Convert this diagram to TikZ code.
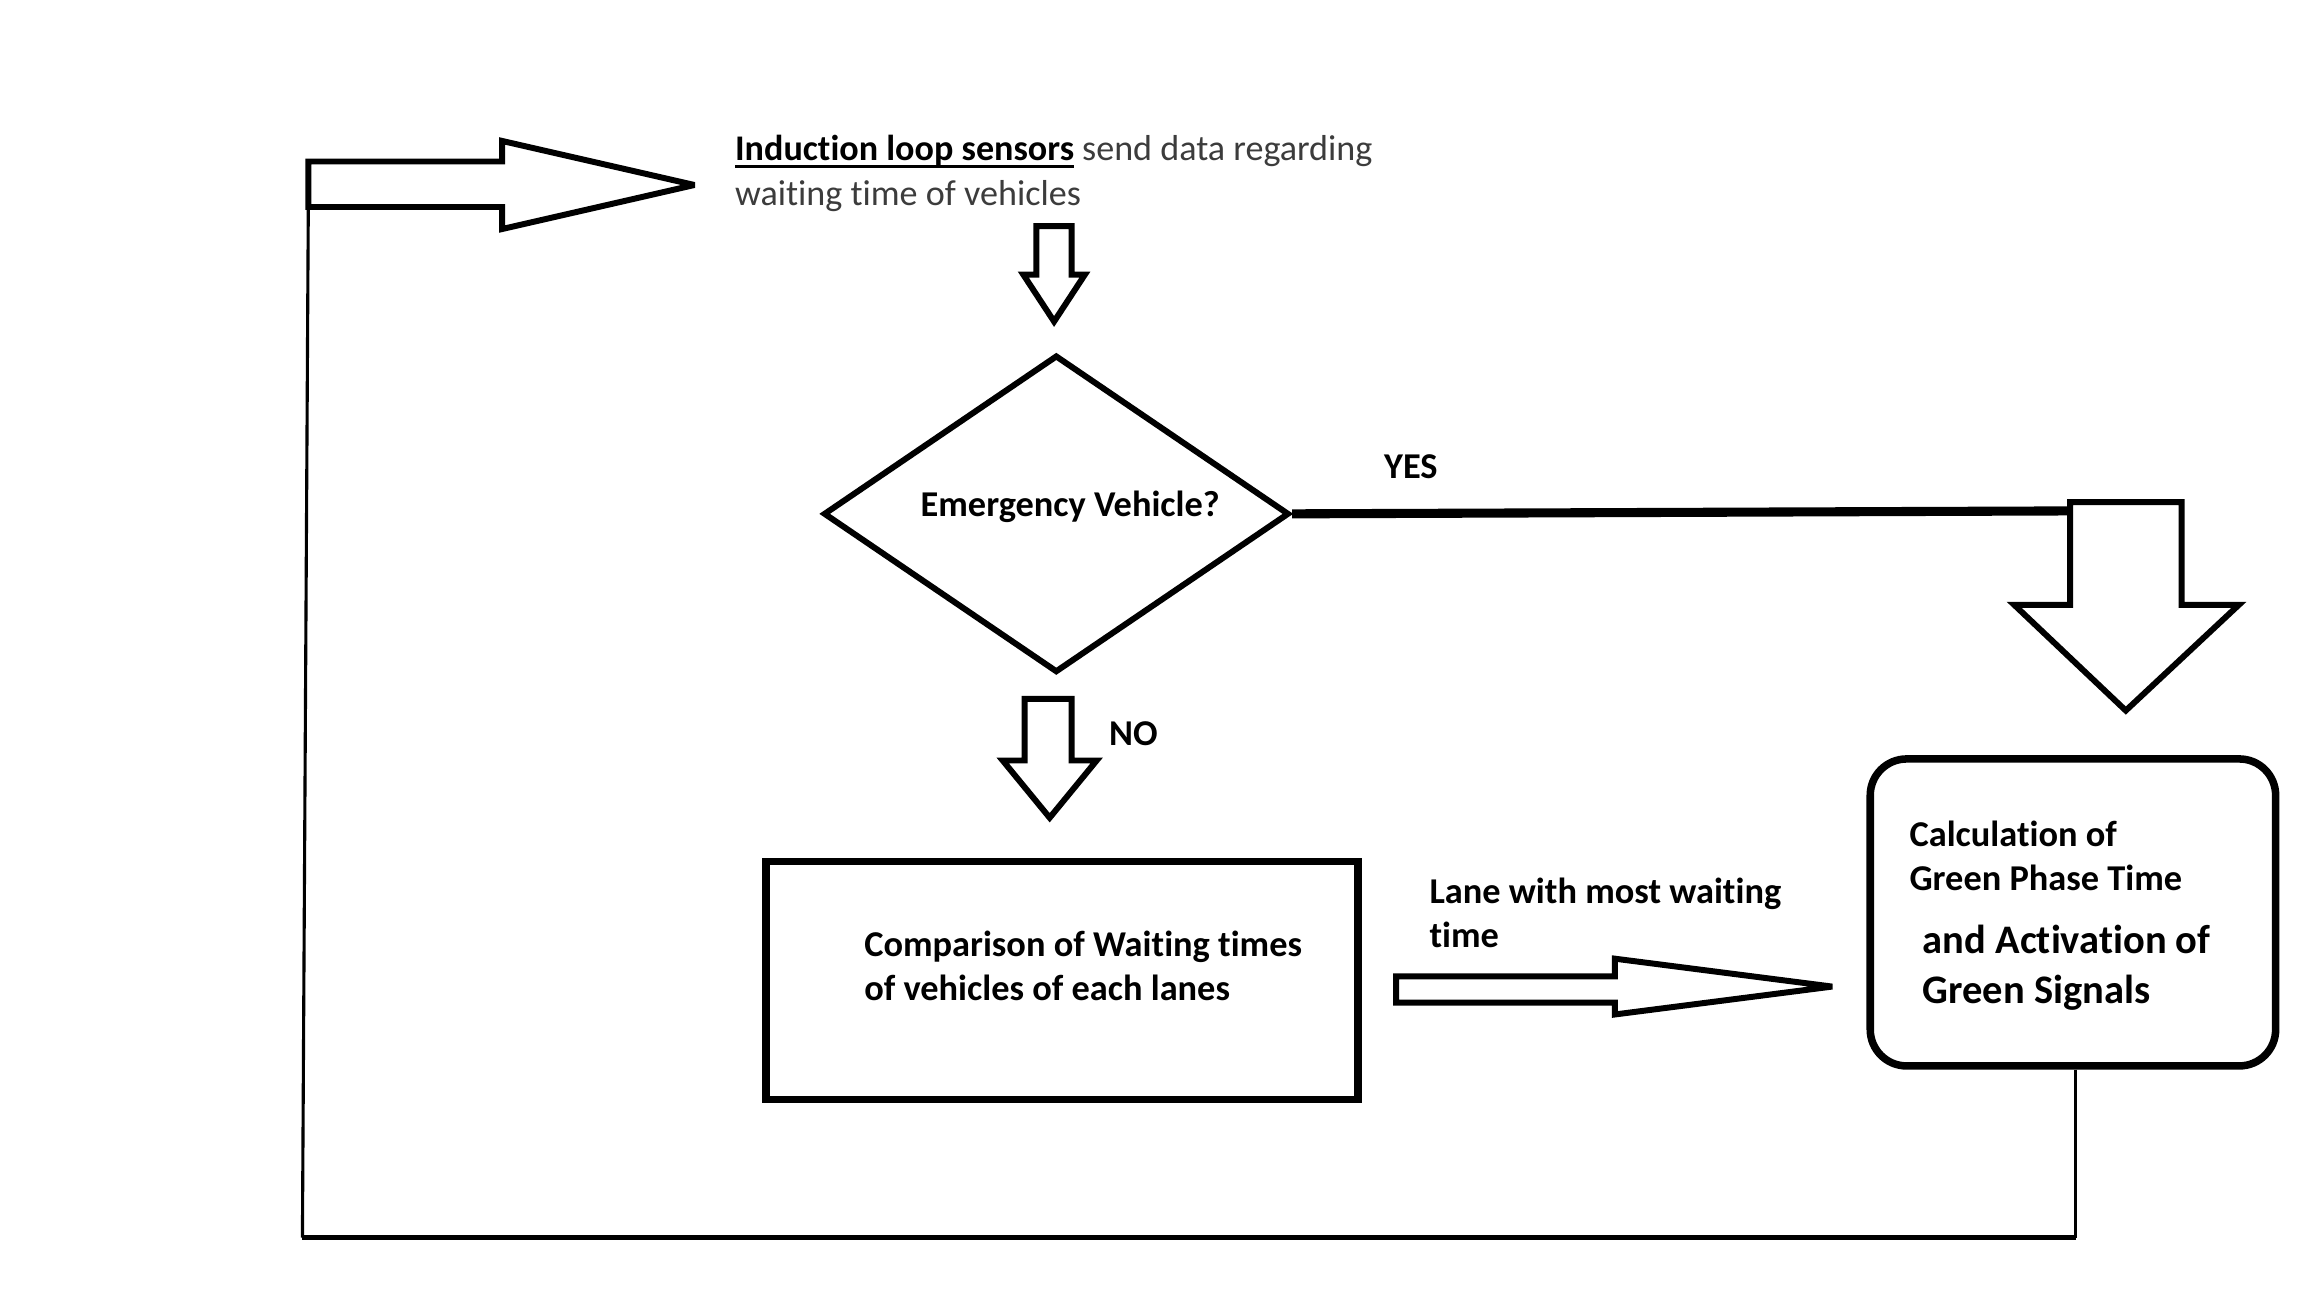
\documentclass[tikz,border=0pt]{standalone}
\usepackage{fontspec}
\setmainfont{Carlito}[Ligatures=NoCommon]
\usetikzlibrary{shapes.geometric}
\definecolor{txtgray}{HTML}{3C3C3C}
\newcommand\ulbold[1]{\setbox0=\hbox{#1}\rlap{\rule[-1.35pt]{\wd0}{0.55pt}}\box0}
\begin{document}
\begin{tikzpicture}[x=0.00994cm,y=-0.00994cm,
  blockarrow/.style={draw=black,line width=1.15pt,line join=miter,miter limit=3.2,fill=white},
  boxline/.style={draw=black,line width=1.45pt},
  thinline/.style={draw=black,line width=0.6pt},
  botline/.style={draw=black,line width=0.95pt},
  yesline/.style={draw=black,line width=1.75pt},
  lbl/.style={inner sep=0pt,align=left,text=black,font=\fontsize{7}{8.55}\selectfont\bfseries},
  biglbl/.style={inner sep=0pt,align=left,text=black,font=\fontsize{7.8}{9.7}\selectfont\bfseries},
  plain/.style={inner sep=0pt,align=left,text=txtgray,font=\fontsize{6.95}{8.55}\selectfont}]
\useasboundingbox (0,0) rectangle (1569.4,882.8);

% shapes
\node[diamond,draw=black,line width=1.15pt,inner sep=0pt,minimum width=3.151cm,minimum height=2.147cm] (emg) at (719.5,350) {};
\node[boxline,rectangle,inner sep=0pt,minimum width=4.006cm,minimum height=1.61cm] (cmp) at (723.5,668) {};
\node[boxline,rectangle,rounded corners=7pt,inner sep=0pt,minimum width=2.743cm,minimum height=2.077cm] (calc) at (1412,621.5) {};

% texts
\node[plain,anchor=west] (sensors) at (500,118) {\textcolor{black}{\ulbold{\bfseries Induction loop sensors}} send data regarding\\waiting time of vehicles};
\node[lbl] (emgtxt) at (729,345) {Emergency Vehicle?};
\node[lbl] (yes) at (961,318) {YES};
\node[lbl] (no) at (772,500) {NO};
\node[lbl,anchor=west] (cmptxt) at (588,658) {Comparison of Waiting times\\of vehicles of each lanes};
\node[lbl,anchor=west] (lane) at (973,622) {Lane with most waiting\\time};
\node[lbl,anchor=west] (calctxt) at (1300,583) {Calculation of\\Green Phase Time};
\node[biglbl,anchor=west] (acttxt) at (1309,659) {and Activation of\\Green Signals};

% block arrows
\draw[blockarrow] (210,110) -- (342,110) -- (342,96) -- (473,126) -- (342,156) -- (342,141) -- (210,141) -- cycle;
\draw[blockarrow] (706,154) -- (730,154) -- (730,187) -- (739,187) -- (718,219) -- (697,187) -- (706,187) -- cycle;
\draw[blockarrow] (698,476) -- (730,476) -- (730,518) -- (747,518) -- (715,557) -- (683,518) -- (698,518) -- cycle;
\draw[blockarrow] (1410,342) -- (1486,342) -- (1486,412) -- (1525,412) -- (1448,484) -- (1372,412) -- (1410,412) -- cycle;
\draw[blockarrow] (951,665) -- (1100,665) -- (1100,653) -- (1248,672) -- (1100,691) -- (1100,683) -- (951,683) -- cycle;

% connectors
\coordinate (bigin) at (1410,348);
\coordinate (loopR) at (1414,843);
\coordinate (loopL) at (206,843);
\coordinate (loopT) at (210,141);
\draw[yesline] (emg.east) -- (bigin);
\draw[thinline] (calc.south -| loopR) -- (loopR);
\draw[botline] (loopR) -- (loopL);
\draw[thinline] (loopL) -- (loopT);
\end{tikzpicture}
\end{document}
